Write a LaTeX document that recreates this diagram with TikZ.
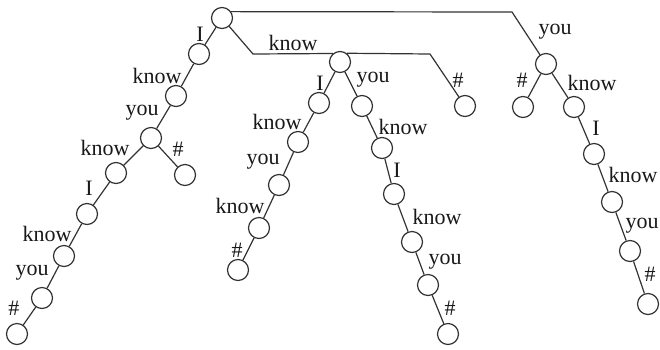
\documentclass[tikz,border=0pt]{standalone}
\usepackage{fontspec}
\setmainfont{Liberation Serif}
\begin{document}
\begin{tikzpicture}[x=1pt,y=-1pt,
  state/.style={circle,draw=black!80,line width=1.2pt,minimum size=21pt,inner sep=0pt},
  word/.style={inner sep=0pt,text=black!90,font=\fontsize{22}{24}\selectfont},
  edge/.style={draw=black!80,line width=1.2pt}]
\clip (0,0) rectangle (660,349);

% trie states
\node[state] (root) at (222,18) {};
\node[state] (L1) at (199,54) {};
\node[state] (L2) at (176,96) {};
\node[state] (L3) at (151,138) {};
\node[state] (L4) at (116,173) {};
\node[state] (Lh) at (185,175) {};
\node[state] (L5) at (87,214) {};
\node[state] (L6) at (64,256) {};
\node[state] (L7) at (42,298) {};
\node[state] (L8) at (17,334) {};
\node[state] (M) at (340,62) {};
\node[state] (ML1) at (319,103) {};
\node[state] (ML2) at (298,142) {};
\node[state] (ML3) at (279,185) {};
\node[state] (ML4) at (259,228) {};
\node[state] (ML5) at (238,270) {};
\node[state] (MR1) at (362,106) {};
\node[state] (MR2) at (382,148) {};
\node[state] (MR3) at (394,194) {};
\node[state] (MR4) at (412,242) {};
\node[state] (MR5) at (428,285) {};
\node[state] (MR6) at (448,334) {};
\node[state] (Mh) at (465,106) {};
\node[state] (R) at (546,64) {};
\node[state] (Rh) at (523,107) {};
\node[state] (R1) at (574,107) {};
\node[state] (R2) at (594,154) {};
\node[state] (R3) at (612,202) {};
\node[state] (R4) at (630,251) {};
\node[state] (R5) at (648,304) {};

% bends of the long branches
\coordinate (bk) at (253,54);
\coordinate (by) at (512,12);
\coordinate (bh) at (430,54);

% connectors
\path[edge] (root) -- (L1) -- (L2) -- (L3) -- (L4) -- (L5) -- (L6) -- (L7) -- (L8);
\path[edge] (L3) -- (Lh);
\path[edge] (root) -- (bk) -- (M.130);
\path[edge] (M) -- (ML1) -- (ML2) -- (ML3) -- (ML4) -- (ML5);
\path[edge] (M) -- (MR1) -- (MR2) -- (MR3) -- (MR4) -- (MR5) -- (MR6);
\path[edge] (M.52) -- (bh) -- (Mh);
\path[edge] (root.35) -- (by) -- (R);
\path[edge] (R) -- (Rh);
\path[edge] (R) -- (R1) -- (R2) -- (R3) -- (R4) -- (R5);

% edge words
\node[word] (w1) at (200,34) {I};
\node[word] (w2) at (157,76) {know};
\node[word] (w3) at (142,113) {you};
\node[word] (w4) at (105,148) {know};
\node[word] (w5) at (178,149) {\#};
\node[word] (w6) at (89,188) {I};
\node[word] (w7) at (47,234) {know};
\node[word] (w8) at (32,273) {you};
\node[word] (w9) at (14,308) {\#};
\node[word] (w10) at (293,43) {know};
\node[word] (w11) at (320,83) {I};
\node[word] (w12) at (373,80) {you};
\node[word] (w13) at (458,80) {\#};
\node[word] (w14) at (277,122) {know};
\node[word] (w15) at (263,162) {you};
\node[word] (w16) at (240,206) {know};
\node[word] (w17) at (237,250) {\#};
\node[word] (w18) at (403,127) {know};
\node[word] (w19) at (397,170) {I};
\node[word] (w20) at (437,217) {know};
\node[word] (w21) at (445,262) {you};
\node[word] (w22) at (450,308) {\#};
\node[word] (w23) at (555,32) {you};
\node[word] (w24) at (522,80) {\#};
\node[word] (w25) at (592,83) {know};
\node[word] (w26) at (596,128) {I};
\node[word] (w27) at (633,175) {know};
\node[word] (w28) at (642,226) {you};
\node[word] (w29) at (650,274) {\#};
\end{tikzpicture}
\end{document}
